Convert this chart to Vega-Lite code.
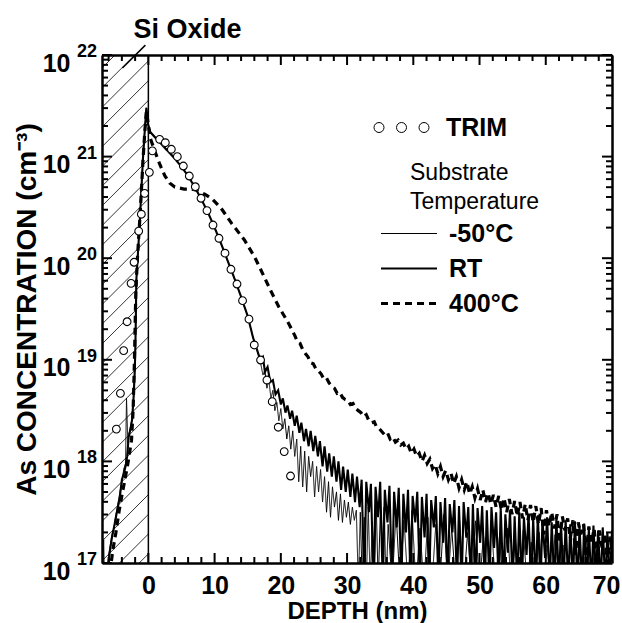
{
"$schema": "https://vega.github.io/schema/vega-lite/v6.json",
"width": 510, "height": 508,
"autosize": {"type": "none"},
"padding": {"left": 102, "top": 55, "right": 10, "bottom": 60},
"background": "white",
"config": {"view": {"stroke": null}, "font": "Liberation Sans"},
"datasets": {
"xmajor": [{"pos":0},{"pos":10},{"pos":20},{"pos":30},{"pos":40},{"pos":50},{"pos":60},{"pos":70}],
"xminor": [{"pos":-6},{"pos":-4},{"pos":-2},{"pos":2},{"pos":4},{"pos":6},{"pos":8},{"pos":12},{"pos":14},{"pos":16},{"pos":18},{"pos":22},{"pos":24},{"pos":26},{"pos":28},{"pos":32},{"pos":34},{"pos":36},{"pos":38},{"pos":42},{"pos":44},{"pos":46},{"pos":48},{"pos":52},{"pos":54},{"pos":56},{"pos":58},{"pos":62},{"pos":64},{"pos":66},{"pos":68}],
"ymajor": [{"pos":1e17},{"pos":1e18},{"pos":1e19},{"pos":1e20},{"pos":1e21},{"pos":1e22}],
"yminor": [{"pos":2e17},{"pos":3e17},{"pos":4e17},{"pos":5e17},{"pos":6e17},{"pos":7e17},{"pos":8e17},{"pos":9e17},{"pos":2e18},{"pos":3e18},{"pos":4e18},{"pos":5e18},{"pos":6e18},{"pos":7e18},{"pos":8e18},{"pos":9e18},{"pos":2e19},{"pos":3e19},{"pos":4e19},{"pos":5e19},{"pos":6e19},{"pos":7e19},{"pos":8e19},{"pos":9e19},{"pos":2e20},{"pos":3e20},{"pos":4e20},{"pos":5e20},{"pos":6e20},{"pos":7e20},{"pos":8e20},{"pos":9e20},{"pos":2e21},{"pos":3e21},{"pos":4e21},{"pos":5e21},{"pos":6e21},{"pos":7e21},{"pos":8e21},{"pos":9e21}],
"yexp": [
{"pos":1e17,"exp":"17"},{"pos":1e18,"exp":"18"},{"pos":1e19,"exp":"19"},{"pos":1e20,"exp":"20"},{"pos":1e21,"exp":"21"},{"pos":1e22,"exp":"22"}
],
"hatch": [
{"x1":-7,"y1":7.45e21,"x2":0,"y2":2.13e22},{"x1":-7,"y1":4.76e21,"x2":0,"y2":1.36e22},{"x1":-7,"y1":3.05e21,"x2":0,"y2":8.73e21},{"x1":-7,"y1":1.95e21,"x2":0,"y2":5.58e21},{"x1":-7,"y1":1.25e21,"x2":0,"y2":3.57e21},{"x1":-7,"y1":7.98e20,"x2":0,"y2":2.29e21},{"x1":-7,"y1":5.11e20,"x2":0,"y2":1.46e21},{"x1":-7,"y1":3.27e20,"x2":0,"y2":9.35e20},{"x1":-7,"y1":2.09e20,"x2":0,"y2":5.98e20},{"x1":-7,"y1":1.34e20,"x2":0,"y2":3.83e20},{"x1":-7,"y1":8.55e19,"x2":0,"y2":2.45e20},{"x1":-7,"y1":5.47e19,"x2":0,"y2":1.57e20},{"x1":-7,"y1":3.5e19,"x2":0,"y2":1.0e20},{"x1":-7,"y1":2.24e19,"x2":0,"y2":6.41e19},{"x1":-7,"y1":1.43e19,"x2":0,"y2":4.1e19},{"x1":-7,"y1":9.16e18,"x2":0,"y2":2.62e19},{"x1":-7,"y1":5.86e18,"x2":0,"y2":1.68e19},{"x1":-7,"y1":3.75e18,"x2":0,"y2":1.07e19},{"x1":-7,"y1":2.4e18,"x2":0,"y2":6.87e18},{"x1":-7,"y1":1.53e18,"x2":0,"y2":4.4e18},{"x1":-7,"y1":9.82e17,"x2":0,"y2":2.81e18},{"x1":-7,"y1":6.28e17,"x2":0,"y2":1.8e18},{"x1":-7,"y1":4.02e17,"x2":0,"y2":1.15e18},{"x1":-7,"y1":2.57e17,"x2":0,"y2":7.36e17},{"x1":-7,"y1":1.64e17,"x2":0,"y2":4.71e17},{"x1":-7,"y1":1.05e17,"x2":0,"y2":3.01e17},{"x1":-7,"y1":6.73e16,"x2":0,"y2":1.93e17},{"x1":-7,"y1":4.31e16,"x2":0,"y2":1.23e17}
],
"profiles": [
{"series":"TRIM","depth":-4.83,"conc":2.08e18},{"series":"TRIM","depth":-4.22,"conc":4.68e18},{"series":"TRIM","depth":-3.73,"conc":1.23e19},{"series":"TRIM","depth":-3.21,"conc":2.37e19},{"series":"TRIM","depth":-2.61,"conc":5.66e19},{"series":"TRIM","depth":-2.16,"conc":9.12e19},{"series":"TRIM","depth":-1.46,"conc":1.85e20},{"series":"TRIM","depth":-1.06,"conc":2.71e20},{"series":"TRIM","depth":-0.56,"conc":4.35e20},{"series":"TRIM","depth":0.15,"conc":7.0e20},{"series":"TRIM","depth":0.6,"conc":1.14e21},{"series":"TRIM","depth":1.7,"conc":1.48e21},{"series":"TRIM","depth":2.56,"conc":1.37e21},{"series":"TRIM","depth":3.47,"conc":1.18e21},{"series":"TRIM","depth":4.37,"conc":9.98e20},{"series":"TRIM","depth":5.28,"conc":8.08e20},{"series":"TRIM","depth":6.18,"conc":6.44e20},{"series":"TRIM","depth":7.09,"conc":5.05e20},{"series":"TRIM","depth":7.95,"conc":3.89e20},{"series":"TRIM","depth":8.85,"conc":2.94e20},{"series":"TRIM","depth":9.76,"conc":2.12e20},{"series":"TRIM","depth":10.66,"conc":1.57e20},{"series":"TRIM","depth":11.57,"conc":1.12e20},{"series":"TRIM","depth":12.47,"conc":7.78e19},{"series":"TRIM","depth":13.38,"conc":5.57e19},{"series":"TRIM","depth":14.22,"conc":3.82e19},{"series":"TRIM","depth":15.19,"conc":2.51e19},{"series":"TRIM","depth":15.99,"conc":1.4e19},{"series":"TRIM","depth":16.94,"conc":9.95e18},{"series":"TRIM","depth":17.9,"conc":6.32e18},{"series":"TRIM","depth":18.7,"conc":3.87e18},{"series":"TRIM","depth":19.61,"conc":2.17e18},{"series":"TRIM","depth":20.51,"conc":1.25e18},{"series":"TRIM","depth":21.46,"conc":7.18e17},

{"series":"RT","depth":-6.1,"conc":7.9e16},{"series":"RT","depth":-5.9,"conc":1.2e17},{"series":"RT","depth":-5.5,"conc":1.78e17},{"series":"RT","depth":-5.1,"conc":2.4e17},{"series":"RT","depth":-4.7,"conc":3.31e17},{"series":"RT","depth":-4.3,"conc":4.47e17},{"series":"RT","depth":-4.0,"conc":6.61e17},{"series":"RT","depth":-3.7,"conc":7.59e17},{"series":"RT","depth":-3.45,"conc":8.91e17},{"series":"RT","depth":-3.2,"conc":1.12e18},{"series":"RT","depth":-2.97,"conc":1.74e18},{"series":"RT","depth":-2.7,"conc":2.09e18},{"series":"RT","depth":-2.46,"conc":2.57e18},{"series":"RT","depth":-2.22,"conc":4.37e18},{"series":"RT","depth":-2.05,"conc":7.94e18},{"series":"RT","depth":-1.96,"conc":1.35e19},{"series":"RT","depth":-1.81,"conc":6.17e19},{"series":"RT","depth":-1.61,"conc":1.02e20},{"series":"RT","depth":-1.31,"conc":2.19e20},{"series":"RT","depth":-1.05,"conc":4.79e20},{"series":"RT","depth":-0.8,"conc":1.0e21},{"series":"RT","depth":-0.55,"conc":1.78e21},{"series":"RT","depth":-0.3,"conc":3.02e21},{"series":"RT","depth":-0.05,"conc":2.09e21},{"series":"RT","depth":0.3,"conc":1.74e21},{"series":"RT","depth":1.0,"conc":1.55e21},{"series":"RT","depth":2.0,"conc":1.32e21},{"series":"RT","depth":3.0,"conc":1.12e21},{"series":"RT","depth":4.0,"conc":9.55e20},{"series":"RT","depth":5.0,"conc":7.94e20},{"series":"RT","depth":6.0,"conc":6.46e20},{"series":"RT","depth":7.0,"conc":5.01e20},{"series":"RT","depth":8.0,"conc":3.8e20},{"series":"RT","depth":9.0,"conc":2.82e20},{"series":"RT","depth":10.0,"conc":2.0e20},{"series":"RT","depth":11.0,"conc":1.38e20},{"series":"RT","depth":12.0,"conc":9.33e19},{"series":"RT","depth":13.0,"conc":6.31e19},{"series":"RT","depth":14.0,"conc":4.17e19},{"series":"RT","depth":15.0,"conc":2.69e19},{"series":"RT","depth":15.8,"conc":1.66e19},{"series":"RT","depth":16.3,"conc":1.32e19},{"series":"RT","depth":16.9,"conc":1.0e19},
{"series":"RT","depth":17.3,"conc":1.07e19},{"series":"RT","depth":17.6,"conc":7.59e18},{"series":"RT","depth":18.0,"conc":8.51e18},{"series":"RT","depth":18.4,"conc":6.03e18},{"series":"RT","depth":18.8,"conc":6.31e18},{"series":"RT","depth":19.2,"conc":4.57e18},{"series":"RT","depth":19.6,"conc":5.01e18},{"series":"RT","depth":20.0,"conc":3.63e18},{"series":"RT","depth":20.3,"conc":4.17e18},{"series":"RT","depth":20.7,"conc":3.02e18},{"series":"RT","depth":21.0,"conc":3.55e18},{"series":"RT","depth":21.4,"conc":2.63e18},{"series":"RT","depth":21.7,"conc":3.16e18},{"series":"RT","depth":22.1,"conc":2.24e18},{"series":"RT","depth":22.4,"conc":2.82e18},{"series":"RT","depth":22.8,"conc":1.91e18},{"series":"RT","depth":23.1,"conc":2.4e18},{"series":"RT","depth":23.5,"conc":1.58e18},{"series":"RT","depth":23.8,"conc":2.09e18},{"series":"RT","depth":24.2,"conc":1.41e18},{"series":"RT","depth":24.5,"conc":2.0e18},{"series":"RT","depth":24.9,"conc":1.26e18},{"series":"RT","depth":25.2,"conc":1.78e18},{"series":"RT","depth":25.6,"conc":1.12e18},{"series":"RT","depth":25.9,"conc":1.58e18},{"series":"RT","depth":26.3,"conc":8.91e17},{"series":"RT","depth":26.6,"conc":1.41e18},{"series":"RT","depth":27.0,"conc":7.94e17},{"series":"RT","depth":27.3,"conc":1.2e18},{"series":"RT","depth":27.7,"conc":7.08e17},{"series":"RT","depth":28.0,"conc":1.12e18},{"series":"RT","depth":28.4,"conc":6.31e17},{"series":"RT","depth":28.7,"conc":1.0e18},{"series":"RT","depth":29.1,"conc":5.25e17},{"series":"RT","depth":29.4,"conc":8.91e17},{"series":"RT","depth":29.8,"conc":5.01e17},{"series":"RT","depth":30.1,"conc":8.32e17},{"series":"RT","depth":30.5,"conc":4.47e17},{"series":"RT","depth":30.8,"conc":7.59e17},{"series":"RT","depth":31.2,"conc":3.98e17},{"series":"RT","depth":31.5,"conc":7.08e17},{"series":"RT","depth":31.9,"conc":3.55e17},{"series":"RT","depth":32.2,"conc":6.61e17},{"series":"RT","depth":32.6,"conc":6e16},{"series":"RT","depth":32.9,"conc":6.31e17},{"series":"RT","depth":33.3,"conc":3.16e17},{"series":"RT","depth":33.6,"conc":6.03e17},{"series":"RT","depth":34.0,"conc":6e16},{"series":"RT","depth":34.3,"conc":5.62e17},{"series":"RT","depth":34.7,"conc":2.82e17},{"series":"RT","depth":35.0,"conc":6.31e17},{"series":"RT","depth":35.4,"conc":6e16},{"series":"RT","depth":35.7,"conc":5.25e17},{"series":"RT","depth":36.1,"conc":2.51e17},{"series":"RT","depth":36.4,"conc":5.75e17},{"series":"RT","depth":36.8,"conc":6e16},{"series":"RT","depth":37.1,"conc":5.01e17},{"series":"RT","depth":37.5,"conc":2.24e17},{"series":"RT","depth":37.8,"conc":5.5e17},{"series":"RT","depth":38.2,"conc":6e16},{"series":"RT","depth":38.5,"conc":4.79e17},{"series":"RT","depth":38.9,"conc":2.0e17},{"series":"RT","depth":39.2,"conc":5.25e17},{"series":"RT","depth":39.6,"conc":6e16},{"series":"RT","depth":39.9,"conc":4.57e17},{"series":"RT","depth":40.3,"conc":2.51e17},{"series":"RT","depth":40.6,"conc":5.01e17},{"series":"RT","depth":41.0,"conc":6e16},{"series":"RT","depth":41.3,"conc":4.47e17},{"series":"RT","depth":41.7,"conc":1.78e17},{"series":"RT","depth":42.0,"conc":4.79e17},{"series":"RT","depth":42.4,"conc":6e16},{"series":"RT","depth":42.7,"conc":4.17e17},{"series":"RT","depth":43.1,"conc":2.24e17},{"series":"RT","depth":43.4,"conc":4.57e17},{"series":"RT","depth":43.8,"conc":6e16},{"series":"RT","depth":44.1,"conc":3.98e17},{"series":"RT","depth":44.5,"conc":1.58e17},{"series":"RT","depth":44.8,"conc":4.37e17},{"series":"RT","depth":45.2,"conc":6e16},{"series":"RT","depth":45.5,"conc":3.8e17},{"series":"RT","depth":45.9,"conc":2.0e17},{"series":"RT","depth":46.2,"conc":4.17e17},{"series":"RT","depth":46.6,"conc":6e16},{"series":"RT","depth":46.9,"conc":3.63e17},{"series":"RT","depth":47.3,"conc":6e16},{"series":"RT","depth":47.6,"conc":3.98e17},{"series":"RT","depth":48.0,"conc":1.78e17},{"series":"RT","depth":48.3,"conc":3.55e17},{"series":"RT","depth":48.7,"conc":6e16},{"series":"RT","depth":49.0,"conc":3.8e17},{"series":"RT","depth":49.4,"conc":6e16},{"series":"RT","depth":49.7,"conc":3.47e17},{"series":"RT","depth":50.1,"conc":1.58e17},{"series":"RT","depth":50.4,"conc":3.63e17},{"series":"RT","depth":50.8,"conc":6e16},{"series":"RT","depth":51.1,"conc":3.31e17},{"series":"RT","depth":51.5,"conc":6e16},{"series":"RT","depth":51.8,"conc":3.55e17},{"series":"RT","depth":52.2,"conc":1.41e17},{"series":"RT","depth":52.5,"conc":3.16e17},{"series":"RT","depth":52.9,"conc":6e16},{"series":"RT","depth":53.2,"conc":3.47e17},{"series":"RT","depth":53.6,"conc":6e16},{"series":"RT","depth":53.9,"conc":3.02e17},{"series":"RT","depth":54.3,"conc":1.26e17},{"series":"RT","depth":54.6,"conc":3.31e17},{"series":"RT","depth":55.0,"conc":6e16},{"series":"RT","depth":55.3,"conc":2.88e17},{"series":"RT","depth":55.7,"conc":6e16},{"series":"RT","depth":56.0,"conc":3.16e17},{"series":"RT","depth":56.4,"conc":6e16},{"series":"RT","depth":56.7,"conc":2.82e17},{"series":"RT","depth":57.1,"conc":1.2e17},{"series":"RT","depth":57.4,"conc":3.02e17},{"series":"RT","depth":57.8,"conc":6e16},{"series":"RT","depth":58.1,"conc":2.75e17},{"series":"RT","depth":58.5,"conc":6e16},{"series":"RT","depth":58.8,"conc":2.95e17},{"series":"RT","depth":59.2,"conc":6e16},{"series":"RT","depth":59.5,"conc":2.63e17},{"series":"RT","depth":59.9,"conc":1.12e17},{"series":"RT","depth":60.2,"conc":2.82e17},{"series":"RT","depth":60.6,"conc":6e16},{"series":"RT","depth":60.9,"conc":2.51e17},{"series":"RT","depth":61.3,"conc":6e16},{"series":"RT","depth":61.6,"conc":2.75e17},{"series":"RT","depth":62.0,"conc":6e16},{"series":"RT","depth":62.3,"conc":2.45e17},{"series":"RT","depth":62.7,"conc":6e16},{"series":"RT","depth":63.0,"conc":2.63e17},{"series":"RT","depth":63.4,"conc":6e16},{"series":"RT","depth":63.7,"conc":2.4e17},{"series":"RT","depth":64.1,"conc":6e16},{"series":"RT","depth":64.4,"conc":2.57e17},{"series":"RT","depth":64.8,"conc":6e16},{"series":"RT","depth":65.1,"conc":2.29e17},{"series":"RT","depth":65.5,"conc":6e16},{"series":"RT","depth":65.8,"conc":2.45e17},{"series":"RT","depth":66.2,"conc":6e16},{"series":"RT","depth":66.5,"conc":2.19e17},{"series":"RT","depth":66.9,"conc":6e16},{"series":"RT","depth":67.2,"conc":2.34e17},{"series":"RT","depth":67.6,"conc":6e16},{"series":"RT","depth":67.9,"conc":2.09e17},{"series":"RT","depth":68.3,"conc":6e16},{"series":"RT","depth":68.6,"conc":2.24e17},{"series":"RT","depth":69.0,"conc":6e16},{"series":"RT","depth":69.3,"conc":2.0e17},{"series":"RT","depth":69.7,"conc":6e16},{"series":"RT","depth":70.0,"conc":2.1e17},

{"series":"-50°C","depth":-6.9,"conc":6e16},{"series":"-50°C","depth":-6.75,"conc":1.7e17},{"series":"-50°C","depth":-6.6,"conc":6e16},{"series":"-50°C","depth":-6.2,"conc":9e16},{"series":"-50°C","depth":-5.9,"conc":1.3e17},{"series":"-50°C","depth":-5.5,"conc":1.9e17},{"series":"-50°C","depth":-5.2,"conc":2.2e17},{"series":"-50°C","depth":-4.9,"conc":3.0e17},{"series":"-50°C","depth":-4.6,"conc":3.8e17},{"series":"-50°C","depth":-4.3,"conc":5.0e17},{"series":"-50°C","depth":-4.0,"conc":6.3e17},{"series":"-50°C","depth":-3.7,"conc":8.5e17},{"series":"-50°C","depth":-3.45,"conc":9.5e17},{"series":"-50°C","depth":-3.3,"conc":4.2e18},{"series":"-50°C","depth":-3.1,"conc":1.5e18},{"series":"-50°C","depth":-2.97,"conc":1.8e18},{"series":"-50°C","depth":-2.7,"conc":2.2e18},{"series":"-50°C","depth":-2.46,"conc":2.6e18},{"series":"-50°C","depth":-2.22,"conc":4.4e18},{"series":"-50°C","depth":-2.05,"conc":7.94e18},{"series":"-50°C","depth":-1.96,"conc":1.35e19},{"series":"-50°C","depth":-1.81,"conc":6.17e19},{"series":"-50°C","depth":-1.61,"conc":1.02e20},{"series":"-50°C","depth":-1.31,"conc":2.19e20},{"series":"-50°C","depth":-1.05,"conc":4.79e20},{"series":"-50°C","depth":-0.8,"conc":1.0e21},{"series":"-50°C","depth":-0.55,"conc":1.78e21},{"series":"-50°C","depth":-0.3,"conc":3.02e21},{"series":"-50°C","depth":-0.05,"conc":2.09e21},{"series":"-50°C","depth":0.3,"conc":1.74e21},{"series":"-50°C","depth":1.0,"conc":1.58e21},{"series":"-50°C","depth":2.0,"conc":1.35e21},{"series":"-50°C","depth":3.0,"conc":1.15e21},{"series":"-50°C","depth":4.0,"conc":9.7e20},{"series":"-50°C","depth":5.0,"conc":8.0e20},{"series":"-50°C","depth":6.0,"conc":6.46e20},{"series":"-50°C","depth":7.0,"conc":5.01e20},{"series":"-50°C","depth":8.0,"conc":3.8e20},{"series":"-50°C","depth":9.0,"conc":2.82e20},{"series":"-50°C","depth":10.0,"conc":2.0e20},{"series":"-50°C","depth":11.0,"conc":1.38e20},{"series":"-50°C","depth":12.0,"conc":9.33e19},{"series":"-50°C","depth":13.0,"conc":6.31e19},{"series":"-50°C","depth":14.0,"conc":4.17e19},{"series":"-50°C","depth":15.0,"conc":2.69e19},{"series":"-50°C","depth":15.8,"conc":1.66e19},{"series":"-50°C","depth":16.3,"conc":1.32e19},{"series":"-50°C","depth":17.0,"conc":8.91e18},{"series":"-50°C","depth":17.3,"conc":7.08e18},{"series":"-50°C","depth":17.6,"conc":7.94e18},{"series":"-50°C","depth":17.9,"conc":5.25e18},{"series":"-50°C","depth":18.2,"conc":6.31e18},{"series":"-50°C","depth":18.5,"conc":4.17e18},{"series":"-50°C","depth":18.8,"conc":5.01e18},{"series":"-50°C","depth":19.1,"conc":3.16e18},{"series":"-50°C","depth":19.4,"conc":3.8e18},{"series":"-50°C","depth":19.7,"conc":2.51e18},{"series":"-50°C","depth":20.0,"conc":3.31e18},{"series":"-50°C","depth":20.3,"conc":2.09e18},{"series":"-50°C","depth":20.6,"conc":2.63e18},{"series":"-50°C","depth":20.9,"conc":1.66e18},{"series":"-50°C","depth":21.2,"conc":2.24e18},{"series":"-50°C","depth":21.5,"conc":1.32e18},{"series":"-50°C","depth":21.8,"conc":2.0e18},{"series":"-50°C","depth":22.1,"conc":1.12e18},{"series":"-50°C","depth":22.4,"conc":1.66e18},{"series":"-50°C","depth":22.7,"conc":6.31e17},{"series":"-50°C","depth":23.0,"conc":1.41e18},{"series":"-50°C","depth":23.3,"conc":5.62e17},{"series":"-50°C","depth":23.6,"conc":1.26e18},{"series":"-50°C","depth":23.9,"conc":5.01e17},{"series":"-50°C","depth":24.2,"conc":1.12e18},{"series":"-50°C","depth":24.5,"conc":7.08e17},{"series":"-50°C","depth":24.8,"conc":1.0e18},{"series":"-50°C","depth":25.1,"conc":4.47e17},{"series":"-50°C","depth":25.4,"conc":8.91e17},{"series":"-50°C","depth":25.7,"conc":5.01e17},{"series":"-50°C","depth":26.0,"conc":8.32e17},{"series":"-50°C","depth":26.3,"conc":3.98e17},{"series":"-50°C","depth":26.6,"conc":7.08e17},{"series":"-50°C","depth":26.9,"conc":3.16e17},{"series":"-50°C","depth":27.2,"conc":6.31e17},{"series":"-50°C","depth":27.5,"conc":2.82e17},{"series":"-50°C","depth":27.8,"conc":5.62e17},{"series":"-50°C","depth":28.1,"conc":3.55e17},{"series":"-50°C","depth":28.4,"conc":5.01e17},{"series":"-50°C","depth":28.7,"conc":2.63e17},{"series":"-50°C","depth":29.0,"conc":4.79e17},{"series":"-50°C","depth":29.3,"conc":2.51e17},{"series":"-50°C","depth":29.6,"conc":4.17e17},{"series":"-50°C","depth":29.9,"conc":2.82e17},{"series":"-50°C","depth":30.2,"conc":3.98e17},{"series":"-50°C","depth":30.5,"conc":2.4e17},{"series":"-50°C","depth":30.8,"conc":3.55e17},{"series":"-50°C","depth":31.1,"conc":2.63e17},{"series":"-50°C","depth":31.4,"conc":3.31e17},{"series":"-50°C","depth":31.7,"conc":6e16},{"series":"-50°C","depth":32.0,"conc":3.16e17},{"series":"-50°C","depth":32.3,"conc":6e16},{"series":"-50°C","depth":32.6,"conc":2.82e17},{"series":"-50°C","depth":32.9,"conc":6e16},{"series":"-50°C","depth":33.2,"conc":3.55e17},{"series":"-50°C","depth":33.5,"conc":6e16},{"series":"-50°C","depth":33.8,"conc":2.51e17},{"series":"-50°C","depth":34.1,"conc":6e16},{"series":"-50°C","depth":34.4,"conc":3.98e17},{"series":"-50°C","depth":34.7,"conc":6e16},{"series":"-50°C","depth":35.0,"conc":2.82e17},{"series":"-50°C","depth":35.3,"conc":1.5e17},{"series":"-50°C","depth":35.6,"conc":3.55e17},{"series":"-50°C","depth":35.9,"conc":6e16},{"series":"-50°C","depth":36.2,"conc":2.4e17},{"series":"-50°C","depth":36.8,"conc":6e16},{"series":"-50°C","depth":37.4,"conc":3.16e17},{"series":"-50°C","depth":38.0,"conc":6e16},{"series":"-50°C","depth":38.6,"conc":2.63e17},{"series":"-50°C","depth":39.2,"conc":6e16},{"series":"-50°C","depth":39.8,"conc":3.31e17},{"series":"-50°C","depth":40.4,"conc":6e16},{"series":"-50°C","depth":41.0,"conc":2.2e17},{"series":"-50°C","depth":41.6,"conc":6e16},{"series":"-50°C","depth":42.2,"conc":2.82e17},{"series":"-50°C","depth":42.8,"conc":6e16},{"series":"-50°C","depth":43.4,"conc":2.4e17},{"series":"-50°C","depth":44.0,"conc":6e16},{"series":"-50°C","depth":44.6,"conc":3.0e17},{"series":"-50°C","depth":45.2,"conc":6e16},{"series":"-50°C","depth":45.8,"conc":2.2e17},{"series":"-50°C","depth":46.4,"conc":6e16},{"series":"-50°C","depth":47.0,"conc":2.6e17},{"series":"-50°C","depth":47.6,"conc":6e16},{"series":"-50°C","depth":48.2,"conc":2.0e17},{"series":"-50°C","depth":48.8,"conc":6e16},{"series":"-50°C","depth":49.4,"conc":2.6e17},{"series":"-50°C","depth":50.0,"conc":6e16},{"series":"-50°C","depth":50.6,"conc":1.9e17},{"series":"-50°C","depth":51.2,"conc":6e16},{"series":"-50°C","depth":51.8,"conc":2.4e17},{"series":"-50°C","depth":52.4,"conc":6e16},{"series":"-50°C","depth":53.0,"conc":1.8e17},{"series":"-50°C","depth":53.6,"conc":6e16},{"series":"-50°C","depth":54.2,"conc":2.2e17},{"series":"-50°C","depth":54.8,"conc":6e16},{"series":"-50°C","depth":55.4,"conc":1.7e17},{"series":"-50°C","depth":56.0,"conc":6e16},{"series":"-50°C","depth":56.6,"conc":2.1e17},{"series":"-50°C","depth":57.2,"conc":6e16},{"series":"-50°C","depth":57.8,"conc":1.6e17},{"series":"-50°C","depth":58.4,"conc":6e16},{"series":"-50°C","depth":59.0,"conc":2.0e17},{"series":"-50°C","depth":59.6,"conc":6e16},{"series":"-50°C","depth":60.2,"conc":1.5e17},{"series":"-50°C","depth":60.8,"conc":6e16},{"series":"-50°C","depth":61.4,"conc":1.9e17},{"series":"-50°C","depth":62.0,"conc":6e16},{"series":"-50°C","depth":62.6,"conc":1.5e17},{"series":"-50°C","depth":63.2,"conc":6e16},{"series":"-50°C","depth":63.8,"conc":1.8e17},{"series":"-50°C","depth":64.4,"conc":6e16},{"series":"-50°C","depth":65.0,"conc":1.4e17},{"series":"-50°C","depth":65.6,"conc":6e16},{"series":"-50°C","depth":66.2,"conc":1.7e17},{"series":"-50°C","depth":66.8,"conc":6e16},{"series":"-50°C","depth":67.4,"conc":1.4e17},{"series":"-50°C","depth":68.0,"conc":6e16},{"series":"-50°C","depth":68.6,"conc":1.6e17},{"series":"-50°C","depth":69.2,"conc":6e16},{"series":"-50°C","depth":69.8,"conc":1.3e17},

{"series":"400°C","depth":-5.8,"conc":8.0e16},{"series":"400°C","depth":-5.4,"conc":1.3e17},{"series":"400°C","depth":-4.9,"conc":2.0e17},{"series":"400°C","depth":-4.4,"conc":3.3e17},{"series":"400°C","depth":-3.9,"conc":5.0e17},{"series":"400°C","depth":-3.45,"conc":7.1e17},{"series":"400°C","depth":-3.1,"conc":9.5e17},{"series":"400°C","depth":-2.8,"conc":1.26e18},{"series":"400°C","depth":-2.55,"conc":1.6e18},{"series":"400°C","depth":-2.3,"conc":3.2e18},{"series":"400°C","depth":-2.1,"conc":1.0e19},{"series":"400°C","depth":-1.9,"conc":4.5e19},{"series":"400°C","depth":-1.65,"conc":1.0e20},{"series":"400°C","depth":-1.35,"conc":2.1e20},{"series":"400°C","depth":-1.05,"conc":4.6e20},{"series":"400°C","depth":-0.8,"conc":9.5e20},{"series":"400°C","depth":-0.55,"conc":1.7e21},{"series":"400°C","depth":-0.3,"conc":2.8e21},{"series":"400°C","depth":0.3,"conc":1.51e21},{"series":"400°C","depth":1.0,"conc":1.12e21},{"series":"400°C","depth":1.75,"conc":8.32e20},{"series":"400°C","depth":2.5,"conc":6.46e20},{"series":"400°C","depth":3.2,"conc":5.5e20},{"series":"400°C","depth":4.0,"conc":5.01e20},{"series":"400°C","depth":5.4,"conc":4.79e20},{"series":"400°C","depth":6.4,"conc":4.79e20},{"series":"400°C","depth":7.3,"conc":4.68e20},{"series":"400°C","depth":8.5,"conc":4.27e20},{"series":"400°C","depth":9.7,"conc":3.8e20},{"series":"400°C","depth":11.0,"conc":3.09e20},{"series":"400°C","depth":12.6,"conc":2.19e20},{"series":"400°C","depth":14.5,"conc":1.51e20},{"series":"400°C","depth":16.0,"conc":1.04e20},{"series":"400°C","depth":17.1,"conc":7.41e19},{"series":"400°C","depth":18.4,"conc":4.9e19},{"series":"400°C","depth":19.7,"conc":3.31e19},{"series":"400°C","depth":20.9,"conc":2.45e19},{"series":"400°C","depth":21.3,"conc":2.2e19},{"series":"400°C","depth":21.7,"conc":1.95e19},{"series":"400°C","depth":22.1,"conc":1.74e19},{"series":"400°C","depth":22.5,"conc":1.51e19},{"series":"400°C","depth":22.9,"conc":1.45e19},{"series":"400°C","depth":23.3,"conc":1.26e19},{"series":"400°C","depth":23.7,"conc":1.15e19},{"series":"400°C","depth":24.1,"conc":1.07e19},{"series":"400°C","depth":24.5,"conc":9.33e18},{"series":"400°C","depth":24.9,"conc":9.12e18},{"series":"400°C","depth":25.3,"conc":8.13e18},{"series":"400°C","depth":25.7,"conc":7.76e18},{"series":"400°C","depth":26.1,"conc":7.24e18},{"series":"400°C","depth":26.5,"conc":6.46e18},{"series":"400°C","depth":26.9,"conc":6.61e18},{"series":"400°C","depth":27.3,"conc":5.89e18},{"series":"400°C","depth":27.7,"conc":5.5e18},{"series":"400°C","depth":28.1,"conc":5.25e18},{"series":"400°C","depth":28.5,"conc":4.68e18},{"series":"400°C","depth":28.9,"conc":4.79e18},{"series":"400°C","depth":29.3,"conc":4.27e18},{"series":"400°C","depth":29.7,"conc":4.07e18},{"series":"400°C","depth":30.1,"conc":3.98e18},{"series":"400°C","depth":30.5,"conc":3.63e18},{"series":"400°C","depth":30.9,"conc":3.72e18},{"series":"400°C","depth":31.3,"conc":3.31e18},{"series":"400°C","depth":31.7,"conc":3.16e18},{"series":"400°C","depth":32.1,"conc":3.02e18},{"series":"400°C","depth":32.5,"conc":2.75e18},{"series":"400°C","depth":32.9,"conc":2.88e18},{"series":"400°C","depth":33.3,"conc":2.51e18},{"series":"400°C","depth":33.7,"conc":2.4e18},{"series":"400°C","depth":34.1,"conc":2.45e18},{"series":"400°C","depth":34.5,"conc":2.14e18},{"series":"400°C","depth":34.9,"conc":2.09e18},{"series":"400°C","depth":35.3,"conc":1.95e18},{"series":"400°C","depth":35.7,"conc":1.82e18},{"series":"400°C","depth":36.1,"conc":1.91e18},{"series":"400°C","depth":36.5,"conc":1.66e18},{"series":"400°C","depth":36.9,"conc":1.74e18},{"series":"400°C","depth":37.3,"conc":1.55e18},{"series":"400°C","depth":37.7,"conc":1.62e18},{"series":"400°C","depth":38.1,"conc":1.45e18},{"series":"400°C","depth":38.5,"conc":1.51e18},{"series":"400°C","depth":38.9,"conc":1.32e18},{"series":"400°C","depth":39.3,"conc":1.41e18},{"series":"400°C","depth":39.7,"conc":1.2e18},{"series":"400°C","depth":40.1,"conc":1.32e18},{"series":"400°C","depth":40.5,"conc":1.12e18},{"series":"400°C","depth":40.9,"conc":1.2e18},{"series":"400°C","depth":41.3,"conc":1.0e18},{"series":"400°C","depth":41.7,"conc":1.15e18},{"series":"400°C","depth":42.1,"conc":9.55e17},{"series":"400°C","depth":42.5,"conc":1.05e18},{"series":"400°C","depth":42.9,"conc":8.51e17},{"series":"400°C","depth":43.3,"conc":9.33e17},{"series":"400°C","depth":43.7,"conc":7.59e17},{"series":"400°C","depth":44.1,"conc":8.91e17},{"series":"400°C","depth":44.5,"conc":7.08e17},{"series":"400°C","depth":44.9,"conc":8.13e17},{"series":"400°C","depth":45.3,"conc":6.61e17},{"series":"400°C","depth":45.7,"conc":7.59e17},{"series":"400°C","depth":46.1,"conc":6.03e17},{"series":"400°C","depth":46.5,"conc":7.08e17},{"series":"400°C","depth":46.9,"conc":5.5e17},{"series":"400°C","depth":47.3,"conc":6.61e17},{"series":"400°C","depth":47.7,"conc":5.25e17},{"series":"400°C","depth":48.1,"conc":6.31e17},{"series":"400°C","depth":48.5,"conc":4.79e17},{"series":"400°C","depth":48.9,"conc":5.62e17},{"series":"400°C","depth":49.3,"conc":4.37e17},{"series":"400°C","depth":49.7,"conc":5.37e17},{"series":"400°C","depth":50.1,"conc":4.17e17},{"series":"400°C","depth":50.5,"conc":5.25e17},{"series":"400°C","depth":50.9,"conc":3.98e17},{"series":"400°C","depth":51.3,"conc":4.9e17},{"series":"400°C","depth":51.7,"conc":3.8e17},{"series":"400°C","depth":52.1,"conc":4.68e17},{"series":"400°C","depth":52.5,"conc":3.55e17},{"series":"400°C","depth":52.9,"conc":4.57e17},{"series":"400°C","depth":53.3,"conc":3.31e17},{"series":"400°C","depth":53.7,"conc":4.37e17},{"series":"400°C","depth":54.1,"conc":3.16e17},{"series":"400°C","depth":54.5,"conc":4.27e17},{"series":"400°C","depth":54.9,"conc":3.02e17},{"series":"400°C","depth":55.3,"conc":4.07e17},{"series":"400°C","depth":55.7,"conc":2.88e17},{"series":"400°C","depth":56.1,"conc":3.98e17},{"series":"400°C","depth":56.5,"conc":2.75e17},{"series":"400°C","depth":56.9,"conc":3.8e17},{"series":"400°C","depth":57.3,"conc":2.63e17},{"series":"400°C","depth":57.7,"conc":3.72e17},{"series":"400°C","depth":58.1,"conc":2.51e17},{"series":"400°C","depth":58.5,"conc":3.63e17},{"series":"400°C","depth":58.9,"conc":2.4e17},{"series":"400°C","depth":59.3,"conc":3.47e17},{"series":"400°C","depth":59.7,"conc":1.91e17},{"series":"400°C","depth":60.1,"conc":3.31e17},{"series":"400°C","depth":60.5,"conc":2.29e17},{"series":"400°C","depth":60.9,"conc":3.16e17},{"series":"400°C","depth":61.3,"conc":2.19e17},{"series":"400°C","depth":61.7,"conc":3.02e17},{"series":"400°C","depth":62.1,"conc":1.58e17},{"series":"400°C","depth":62.5,"conc":2.88e17},{"series":"400°C","depth":62.9,"conc":2.09e17},{"series":"400°C","depth":63.3,"conc":2.75e17},{"series":"400°C","depth":63.7,"conc":1.74e17},{"series":"400°C","depth":64.1,"conc":2.63e17},{"series":"400°C","depth":64.5,"conc":1.2e17},{"series":"400°C","depth":64.9,"conc":2.51e17},{"series":"400°C","depth":65.3,"conc":1.91e17},{"series":"400°C","depth":65.7,"conc":2.4e17},{"series":"400°C","depth":66.1,"conc":1.15e17},{"series":"400°C","depth":66.5,"conc":2.29e17},{"series":"400°C","depth":66.9,"conc":1.58e17},{"series":"400°C","depth":67.3,"conc":2.19e17},{"series":"400°C","depth":67.7,"conc":1.05e17},{"series":"400°C","depth":68.1,"conc":2.09e17},{"series":"400°C","depth":68.5,"conc":1.41e17},{"series":"400°C","depth":68.9,"conc":1.95e17},{"series":"400°C","depth":69.3,"conc":1.0e17},{"series":"400°C","depth":69.7,"conc":1.82e17},{"series":"400°C","depth":70.0,"conc":1.3e17}
]
},
"resolve": {"axis": {"x": "independent", "y": "independent"}},
"layer": [
{
"data": {"name": "hatch"},
"mark": {"type": "rule", "color": "black", "strokeWidth": 0.8, "clip": true},
"encoding": {
"x": {"field": "x1", "type": "quantitative", "scale": {"domain": [-7, 70], "nice": false, "zero": false}, "axis": null},
"x2": {"field": "x2"},
"y": {"field": "y1", "type": "quantitative", "scale": {"type": "log", "domain": [1e17, 1e22], "nice": false}, "axis": null},
"y2": {"field": "y2"}
}
},
{
"data": {"values": [{"depth": 0}]},
"mark": {"type": "rule", "color": "black", "strokeWidth": 1.5},
"encoding": {"x": {"field": "depth", "type": "quantitative", "axis": null}}
},
{
"data": {"name": "profiles"},
"transform": [{"filter": "datum.series !== 'TRIM'"}],
"mark": {"type": "line", "color": "black", "clip": true, "strokeJoin": "miter"},
"encoding": {
"x": {"field": "depth", "type": "quantitative", "scale": {"domain": [-7, 70], "nice": false, "zero": false},
"axis": {"orient": "bottom", "values": [0,10,20,30,40,50,60,70], "ticks": false,
"labelFont": "Liberation Sans", "labelFontSize": 25, "labelFontWeight": "bold", "labelColor": "black", "labelPadding": 10, "labelFlush": 1, "labelFlushOffset": 8, "labelOverlap": false,
"grid": false, "domainColor": "black", "domainWidth": 2.5,
"title": "DEPTH (nm)", "titleFont": "Liberation Sans", "titleFontSize": 24, "titleFontWeight": "bold", "titleColor": "black", "titlePadding": 1}},
"y": {"field": "conc", "type": "quantitative", "scale": {"type": "log", "domain": [1e17, 1e22], "nice": false},
"axis": {"orient": "left", "values": [1e17, 1e18, 1e19, 1e20, 1e21, 1e22], "ticks": false,
"labelExpr": "'10'", "labelFont": "Liberation Sans", "labelFontSize": 25, "labelFontWeight": "bold", "labelColor": "black", "labelPadding": 32, "labelBaseline": "alphabetic", "labelOffset": 16, "labelOverlap": false, "labelFlush": false,
"grid": false, "domainColor": "black", "domainWidth": 2.5,
"title": "As CONCENTRATION (cm\u207b\u00b3)", "titleFont": "Liberation Sans", "titleFontSize": 28, "titleFontWeight": "bold", "titleColor": "black", "titlePadding": 1}},
"strokeDash": {"field": "series", "type": "nominal", "scale": {"domain": ["-50°C", "RT", "400°C"], "range": [[1, 0], [1, 0], [7, 5]]},
"legend": {"orient": "none", "legendX": 277, "legendY": 107, "padding": 0,
"title": ["Substrate", "Temperature"], "titleFont": "Liberation Sans", "titleFontSize": 23, "titleFontWeight": "normal", "titleColor": "black", "titleLineHeight": 29, "titlePadding": 2, "titleAnchor": "start",
"labelFont": "Liberation Sans", "labelFontSize": 25, "labelFontWeight": "bold", "labelColor": "black", "labelOffset": 10,
"symbolType": "stroke", "symbolSize": 3136, "symbolStrokeColor": "black", "rowPadding": 0, "clipHeight": 35,
"encode": {"title": {"update": {"dx": {"value": 31}}}}}},
"strokeWidth": {"field": "series", "type": "nominal", "scale": {"domain": ["-50°C", "RT", "400°C"], "range": [1, 3.2, 2.8]},
"legend": {"orient": "none", "legendX": 277, "legendY": 107, "padding": 0,
"title": ["Substrate", "Temperature"], "titleFont": "Liberation Sans", "titleFontSize": 23, "titleFontWeight": "normal", "titleColor": "black", "titleLineHeight": 29, "titlePadding": 2, "titleAnchor": "start",
"labelFont": "Liberation Sans", "labelFontSize": 25, "labelFontWeight": "bold", "labelColor": "black", "labelOffset": 10,
"symbolType": "stroke", "symbolSize": 3136, "symbolStrokeColor": "black", "rowPadding": 0, "clipHeight": 35,
"encode": {"title": {"update": {"dx": {"value": 31}}}}}}
}
},
{
"data": {"name": "profiles"},
"transform": [{"filter": "datum.series === 'TRIM'"}],
"mark": {"type": "point", "shape": "circle", "filled": false, "fill": "white", "fillOpacity": 1, "size": 60, "strokeWidth": 1.1, "opacity": 1},
"encoding": {
"x": {"field": "depth", "type": "quantitative", "scale": {"domain": [-7, 70], "nice": false, "zero": false},
"axis": {"orient": "top", "labels": false, "ticks": false, "title": null, "grid": false, "domain": true, "domainColor": "black", "domainWidth": 2.5}},
"y": {"field": "conc", "type": "quantitative", "scale": {"type": "log", "domain": [1e17, 1e22], "nice": false},
"axis": {"orient": "right", "labels": false, "ticks": false, "title": null, "grid": false, "domain": true, "domainColor": "black", "domainWidth": 2.5}},
"color": {"field": "series", "type": "nominal", "scale": {"domain": ["TRIM"], "range": ["black"]},
"legend": {"orient": "none", "legendX": 287, "legendY": 60, "padding": 0, "title": null,
"labelFont": "Liberation Sans", "labelFontSize": 25, "labelFontWeight": "bold", "labelColor": "black", "labelOffset": 32,
"symbolSize": 100, "symbolStrokeWidth": 1, "symbolStrokeColor": "black", "symbolFillColor": "white",
"symbolType": "M-3.5,0A1,1,0,1,1,-5.5,0A1,1,0,1,1,-3.5,0Z M1,0A1,1,0,1,1,-1,0A1,1,0,1,1,1,0Z M5.5,0A1,1,0,1,1,3.5,0A1,1,0,1,1,5.5,0Z",
"encode": {"symbols": {"update": {"shape": {"value": "M-3.5,0A1,1,0,1,1,-5.5,0A1,1,0,1,1,-3.5,0Z M1,0A1,1,0,1,1,-1,0A1,1,0,1,1,1,0Z M5.5,0A1,1,0,1,1,3.5,0A1,1,0,1,1,5.5,0Z"}, "fill": {"value": "white"}, "stroke": {"value": "black"}, "strokeWidth": {"value": 1}}}}}}
}
},
{
"data": {"name": "yexp"},
"mark": {"type": "text", "font": "Liberation Sans", "fontSize": 18, "fontWeight": "bold", "color": "black", "align": "right", "baseline": "alphabetic", "dx": -5, "dy": 2},
"encoding": {
"x": {"datum": -7, "type": "quantitative", "axis": null},
"y": {"field": "pos", "type": "quantitative", "axis": null},
"text": {"field": "exp"}
}
},
{
"data": {"values": [{"label": "Si Oxide", "depth": 5.9, "conc": 1.47e22}]},
"mark": {"type": "text", "font": "Liberation Sans", "fontSize": 27, "fontWeight": "bold", "color": "black", "align": "center", "baseline": "alphabetic"},
"encoding": {
"x": {"field": "depth", "type": "quantitative", "axis": null},
"y": {"field": "conc", "type": "quantitative", "axis": null},
"text": {"field": "label"}
}
},
{
"data": {"values": [{"depth": -3.92, "conc": 7.45e21, "depth2": -0.45, "conc2": 1.25e22}]},
"mark": {"type": "rule", "color": "black", "strokeWidth": 1.5},
"encoding": {
"x": {"field": "depth", "type": "quantitative", "axis": null},
"x2": {"field": "depth2"},
"y": {"field": "conc", "type": "quantitative", "axis": null},
"y2": {"field": "conc2"}
}
},
{
"data": {"name": "xmajor"},
"mark": {"type": "tick", "orient": "vertical", "color": "black", "thickness": 2, "size": 10, "yOffset": -5, "opacity": 1},
"encoding": {"x": {"field": "pos", "type": "quantitative", "axis": null}, "y": {"datum": 1e17, "type": "quantitative", "axis": null}}
},
{
"data": {"name": "xminor"},
"mark": {"type": "tick", "orient": "vertical", "color": "black", "thickness": 2, "size": 6, "yOffset": -3, "opacity": 1},
"encoding": {"x": {"field": "pos", "type": "quantitative", "axis": null}, "y": {"datum": 1e17, "type": "quantitative", "axis": null}}
},
{
"data": {"name": "xmajor"},
"mark": {"type": "tick", "orient": "vertical", "color": "black", "thickness": 2, "size": 10, "yOffset": 5, "opacity": 1},
"encoding": {"x": {"field": "pos", "type": "quantitative", "axis": null}, "y": {"datum": 1e22, "type": "quantitative", "axis": null}}
},
{
"data": {"name": "xminor"},
"mark": {"type": "tick", "orient": "vertical", "color": "black", "thickness": 2, "size": 6, "yOffset": 3, "opacity": 1},
"encoding": {"x": {"field": "pos", "type": "quantitative", "axis": null}, "y": {"datum": 1e22, "type": "quantitative", "axis": null}}
},
{
"data": {"name": "ymajor"},
"mark": {"type": "tick", "orient": "horizontal", "color": "black", "thickness": 2, "size": 10, "xOffset": 5, "opacity": 1},
"encoding": {"y": {"field": "pos", "type": "quantitative", "axis": null}, "x": {"datum": -7, "type": "quantitative", "axis": null}}
},
{
"data": {"name": "yminor"},
"mark": {"type": "tick", "orient": "horizontal", "color": "black", "thickness": 2, "size": 6, "xOffset": 3, "opacity": 1},
"encoding": {"y": {"field": "pos", "type": "quantitative", "axis": null}, "x": {"datum": -7, "type": "quantitative", "axis": null}}
},
{
"data": {"name": "ymajor"},
"mark": {"type": "tick", "orient": "horizontal", "color": "black", "thickness": 2, "size": 10, "xOffset": -5, "opacity": 1},
"encoding": {"y": {"field": "pos", "type": "quantitative", "axis": null}, "x": {"datum": 70, "type": "quantitative", "axis": null}}
},
{
"data": {"name": "yminor"},
"mark": {"type": "tick", "orient": "horizontal", "color": "black", "thickness": 2, "size": 6, "xOffset": -3, "opacity": 1},
"encoding": {"y": {"field": "pos", "type": "quantitative", "axis": null}, "x": {"datum": 70, "type": "quantitative", "axis": null}}
}
]
}
